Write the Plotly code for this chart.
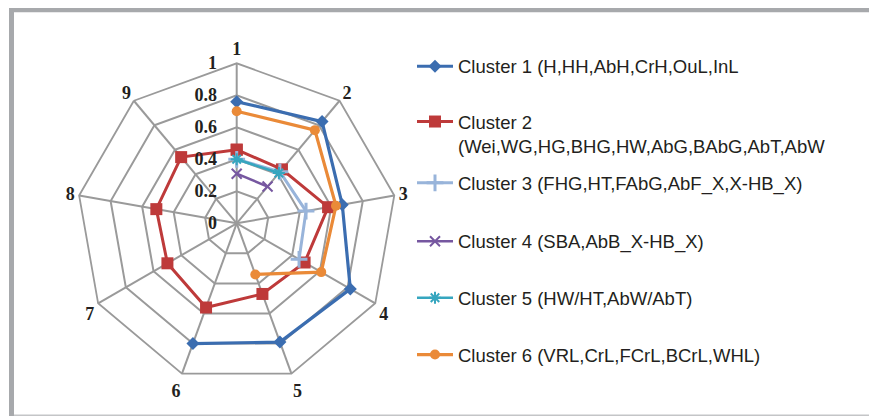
import plotly.graph_objects as go

axes = ["1", "2", "3", "4", "5", "6", "7", "8", "9"]

names = [
    "Cluster 1 (H,HH,AbH,CrH,OuL,InL",
    "Cluster 2<br>(Wei,WG,HG,BHG,HW,AbG,BAbG,AbT,AbW",
    "Cluster 3 (FHG,HT,FAbG,AbF_X,X-HB_X)",
    "Cluster 4 (SBA,AbB_X-HB_X)",
    "Cluster 5 (HW/HT,AbW/AbT)",
    "Cluster 6 (VRL,CrL,FCrL,BCrL,WHL)",
]

c1_theta = ["1", "2", "3", "4", "5", "6"]
c1_r = [0.76, 0.83, 0.67, 0.82, 0.79, 0.80]

c2_theta = ["1", "2", "3", "4", "5", "6", "7", "8", "9", "1"]
c2_r = [0.46, 0.44, 0.58, 0.49, 0.47, 0.56, 0.50, 0.51, 0.54, 0.46]

c3_theta = ["1", "2", "3", "4"]
c3_r = [0.40, 0.42, 0.44, 0.45]

c4_theta = ["1", "2"]
c4_r = [0.31, 0.30]

c5_theta = ["1", "2"]
c5_r = [0.40, 0.41]

c6_theta = ["1", "2", "3", "4", "5"]
c6_r = [0.70, 0.76, 0.63, 0.61, 0.34]

radial_ticks = [0, 0.2, 0.4, 0.6, 0.8, 1]

colors = ["#3b6db0", "#be3a3a", "#98b4da", "#7657a0", "#36a6bf", "#ea8a38"]
series = [(c1_theta, c1_r), (c2_theta, c2_r), (c3_theta, c3_r),
          (c4_theta, c4_r), (c5_theta, c5_r), (c6_theta, c6_r)]
markers = [
    dict(symbol="diamond", size=10),
    dict(symbol="square", size=12),
    dict(symbol="cross-thin", size=12, line=dict(width=3, color=colors[2])),
    dict(symbol="x-thin", size=10, line=dict(width=2, color=colors[3])),
    dict(symbol="asterisk", size=10, line=dict(width=2, color=colors[4])),
    dict(symbol="circle", size=10),
]
widths = [3.2, 3, 3, 2.5, 2.5, 3.2]

# page offset of the figure (browser body margin)
OX, OY = 8, 8
W, H = 877 - OX, 416 - OY


def px(x):
    return (x - OX) / W


def py(y):
    return 1 - (y - OY) / H


legend_y_px = [66.7, 134, 183.3, 241.7, 298.3, 355]

fig = go.Figure()
for i, ((th, rr), name) in enumerate(zip(series, names)):
    lg = "legend" if i == 0 else f"legend{i+1}"
    fig.add_trace(go.Scatterpolar(
        theta=th, r=rr, name=name, mode="lines+markers",
        line=dict(color=colors[i], width=widths[i]),
        marker=dict(color=colors[i], **markers[i]),
        legend=lg,
    ))

layout_legends = {}
for i, ypx in enumerate(legend_y_px):
    key = "legend" if i == 0 else f"legend{i+1}"
    layout_legends[key] = dict(
        x=px(412), xanchor="left", y=py(ypx), yanchor="middle",
        font=dict(family="Liberation Sans", size=18.5, color="#231f20"),
        bgcolor="rgba(0,0,0,0)", valign="top", itemwidth=36,
    )

cx, cy, R = 236.7, 223.3, 160
gridc = "#9a9a9a"
fig.update_layout(
    width=W, height=H, autosize=False,
    margin=dict(l=0, r=0, t=0, b=0),
    paper_bgcolor="white",
    showlegend=True,
    polar=dict(
        domain=dict(x=[px(cx - R), px(cx + R)], y=[py(cy + R), py(cy - R)]),
        gridshape="linear",
        bgcolor="white",
        angularaxis=dict(
            type="category", categoryarray=axes, rotation=90, direction="clockwise",
            showline=True, linecolor=gridc, linewidth=1.8,
            gridcolor=gridc, gridwidth=1.5, ticks="",
            tickfont=dict(family="Liberation Serif", size=18, color="#231f20", weight="bold"),
        ),
        radialaxis=dict(
            range=[0, 1], tickvals=radial_ticks, angle=90, side="counterclockwise",
            tickangle=90,
            showline=False, gridcolor=gridc, gridwidth=1.5,
            ticks="outside", ticklen=13, tickcolor="rgba(0,0,0,0)",
            tickfont=dict(family="Liberation Serif", size=18, color="#231f20", weight="bold"),
        ),
    ),
    shapes=[
        dict(type="rect", xref="paper", yref="paper", x0=px(9), x1=1, y0=py(12.3), y1=1,
             fillcolor="#a7a9ac", line=dict(width=0)),
        dict(type="rect", xref="paper", yref="paper", x0=px(9), x1=px(14), y0=0, y1=1,
             fillcolor="#a7a9ac", line=dict(width=0)),
        dict(type="rect", xref="paper", yref="paper", x0=px(872), x1=1, y0=0, y1=1,
             fillcolor="#a7a9ac", line=dict(width=0)),
        dict(type="rect", xref="paper", yref="paper", x0=px(14), x1=px(872), y0=0, y1=py(414.5),
             fillcolor="#c4c5c7", line=dict(width=0)),
    ],
    **layout_legends,
)

fig.write_html("out.html")
